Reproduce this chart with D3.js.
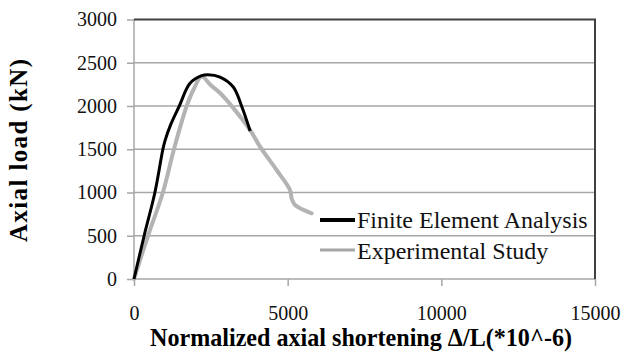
<!DOCTYPE html>
<html>
<head>
<meta charset="utf-8">
<script src="https://cdn.jsdelivr.net/npm/d3@7"></script>
<style>
	body { margin: 0; background: #fff; }
	.axis path { display: none; }
</style>
</head>
<body>
<div id="chart"></div>
<script>
// Finite element curve
let feaX = [0, 330, 680, 940, 1010, 1200, 1474, 1822, 2200, 2400, 2800, 3230, 3500, 3780];
let feaY = [0, 500, 1000, 1500, 1600, 1790, 2000, 2262, 2350, 2362, 2335, 2220, 2000, 1710];

// Experimental curve
let expX = [0, 455, 940, 1300, 1714, 1950, 2200, 2500, 2800, 3200, 3800, 4100, 4640, 5075, 5130, 5240, 5780];
let expY = [0, 500, 1000, 1500, 2000, 2200, 2340, 2240, 2150, 1990, 1710, 1530, 1260, 1030, 930, 855, 760];

let xTicks = [0, 5000, 10000, 15000];
let yTicks = [0, 500, 1000, 1500, 2000, 2500, 3000];
let seriesNames = ["Finite Element Analysis", "Experimental Study"];

let serif = "Liberation Serif";

let margin = {top: 19.5, right: 29, bottom: 84, left: 134};
let width = 624 - margin.left - margin.right;
let height = 363 - margin.top - margin.bottom;

let svg = d3.select("#chart").append("svg")
	.attr("width", 624)
	.attr("height", 363)
	.append("g")
	.attr("transform", "translate(" + margin.left + "," + margin.top + ")");

let x = d3.scaleLinear().domain([0, 15000]).range([0, width]);
let y = d3.scaleLinear().domain([0, 3000]).range([height, 0]);

// gridlines
svg.selectAll(".grid")
	.data(yTicks.slice(1, -1))
	.enter()
	.append("line")
	.attr("x1", 0)
	.attr("x2", width)
	.attr("y1", d => y(d))
	.attr("y2", d => y(d))
	.style("stroke", "#a6a6a6")
	.style("stroke-width", 1.5);

// left axis line
svg.append("line")
	.attr("x1", 0).attr("x2", 0)
	.attr("y1", 0).attr("y2", height)
	.style("stroke", "#a6a6a6")
	.style("stroke-width", 1.5);

// bottom axis line
svg.append("line")
	.attr("x1", 0).attr("x2", width)
	.attr("y1", height).attr("y2", height)
	.style("stroke", "#a6a6a6")
	.style("stroke-width", 1.5);

// plot border top / right
svg.append("path")
	.attr("d", "M0," + y(3000) + "H" + x(15000) + "V" + height)
	.style("fill", "none")
	.style("stroke", "#404040")
	.style("stroke-width", 2);

let yAxis = d3.axisLeft(y).tickValues(yTicks).tickSize(7).tickPadding(10).tickFormat(d3.format("d"));
let xAxis = d3.axisBottom(x).tickValues(xTicks).tickSize(7).tickPadding(20).tickFormat(d3.format("d"));

let gy = svg.append("g")
	.attr("class", "axis y-axis")
	.call(yAxis);
gy.selectAll("line").style("stroke", "#a6a6a6").style("stroke-width", 1.5);
gy.selectAll("text")
	.attr("font-family", serif)
	.attr("font-size", 20)
	.attr("fill", "#111");

let gx = svg.append("g")
	.attr("class", "axis x-axis")
	.attr("transform", "translate(0," + height + ")")
	.call(xAxis);
gx.selectAll("line").style("stroke", "#a6a6a6").style("stroke-width", 1.5);
gx.selectAll("text")
	.attr("font-family", serif)
	.attr("font-size", 20)
	.attr("fill", "#111");

// axis titles
svg.append("text")
	.attr("x", 361 - margin.left)
	.attr("y", 346 - margin.top)
	.attr("text-anchor", "middle")
	.attr("textLength", 422)
	.attr("lengthAdjust", "spacingAndGlyphs")
	.attr("font-family", serif)
	.attr("font-size", 25)
	.attr("font-weight", "bold")
	.text("Normalized axial shortening \u0394/L(*10^-6)");

svg.append("text")
	.attr("transform", "translate(" + (27 - margin.left) + "," + (150.5 - margin.top) + ")rotate(-90)")
	.attr("text-anchor", "middle")
	.attr("textLength", 183)
	.attr("lengthAdjust", "spacing")
	.attr("font-family", serif)
	.attr("font-size", 25)
	.attr("font-weight", "bold")
	.text("Axial load (kN)");

// curves
let line = d3.line()
	.x(d => x(d[0]))
	.y(d => y(d[1]))
	.curve(d3.curveCatmullRom.alpha(0.5));

let expData = expX.map((v, i) => [v, expY[i]]);
let feaData = feaX.map((v, i) => [v, feaY[i]]);

svg.append("path")
	.datum(expData)
	.attr("d", line)
	.style("fill", "none")
	.style("stroke", "#b3b3b3")
	.style("stroke-width", 4)
	.style("stroke-linejoin", "round")
	.style("stroke-linecap", "round");

svg.append("path")
	.datum(feaData)
	.attr("d", line)
	.style("fill", "none")
	.style("stroke", "#000")
	.style("stroke-width", 3)
	.style("stroke-linejoin", "round");

// legend
let legendColors = ["#000", "#a6a6a6"];
let legendWidths = [4, 3];
let legend = svg.selectAll(".legend")
	.data(seriesNames)
	.enter()
	.append("g")
	.attr("class", "legend")
	.attr("transform", (d, i) => "translate(" + (320 - margin.left) + "," + (220 - margin.top + i * 30) + ")");

legend.append("line")
	.attr("x1", 0).attr("x2", 35)
	.attr("y1", 0).attr("y2", 0)
	.style("stroke", (d, i) => legendColors[i])
	.style("stroke-width", (d, i) => legendWidths[i]);

legend.append("text")
	.attr("x", 37)
	.attr("y", (d, i) => 8 + i)
	.attr("font-family", serif)
	.attr("font-size", 24)
	.attr("fill", "#111")
	.text(d => d);
</script>
</body>
</html>
